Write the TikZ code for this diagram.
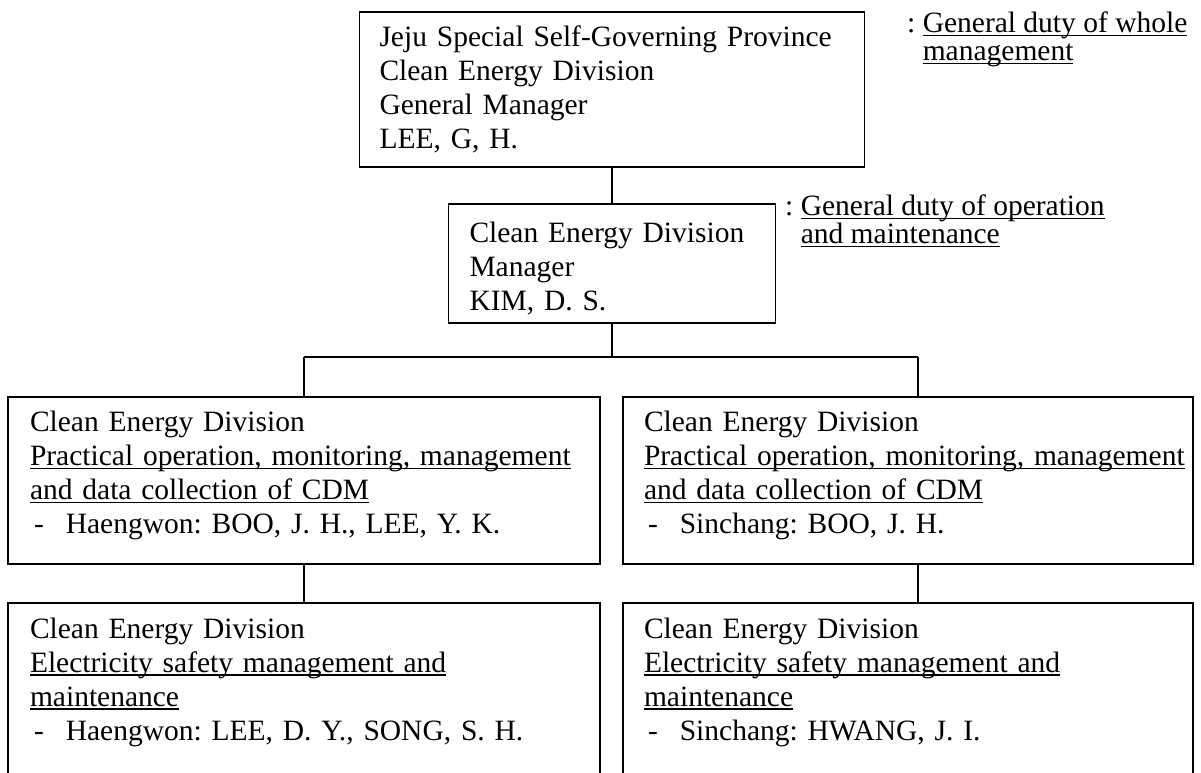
\documentclass[tikz,border=0pt]{standalone}
\usepackage{fontspec}
\setmainfont{Liberation Serif}
\newcommand{\ulined}[1]{\leavevmode\setbox0\hbox{#1}\rlap{\rule[-3.5pt]{\wd0}{1.5pt}}\box0}
\newcommand{\staff}[1]{\leavevmode\hspace*{4pt}-\hspace*{22pt}#1}
\tikzset{
  unit/.style={draw, line width=1.6pt, align=left, inner ysep=0pt,
    font=\fontsize{29.5}{34}\selectfont\frenchspacing},
  duty/.style={align=left, inner sep=0pt, anchor=north west,
    font=\fontsize{29.5}{28}\selectfont\frenchspacing},
  link/.style={line width=1.6pt}
}
\begin{document}
\begin{tikzpicture}[x=1pt,y=-1pt]
\useasboundingbox (0,0) rectangle (1201,773);
\clip (0,0) rectangle (1201,773);

\node[unit, inner xsep=20pt, text width=465pt, minimum height=155pt] (gm) at (612,89.5)
  {Jeju Special Self-Governing Province\\Clean Energy Division\\General Manager\\LEE, G, H.};
\node[unit, inner xsep=21pt, text width=285pt, minimum height=119pt] (mgr) at (612,263.5)
  {\rule{0pt}{30pt}Clean Energy Division\\Manager\\KIM, D. S.};

\node[duty] (dutygm) at (907,12)
  {: \ulined{General duty of whole}\\\hphantom{: }\ulined{management}};
\node[duty] (dutymgr) at (785,195)
  {: \ulined{General duty of operation}\\\hphantom{: }\ulined{and maintenance}};

\node[unit, inner xsep=22pt, text width=548pt, minimum height=167pt] (cdmL) at (304,480.5)
  {Clean Energy Division\\\ulined{Practical operation, monitoring, management}\\
   \ulined{and data collection of CDM}\\\staff{Haengwon: BOO, J. H., LEE, Y. K.}\rule[-16pt]{0pt}{16pt}};
\node[unit, inner xsep=21pt, text width=528pt, minimum height=167pt] (cdmR) at (908,480.5)
  {Clean Energy Division\\\ulined{Practical operation, monitoring, management}\\
   \ulined{and data collection of CDM}\\\staff{Sinchang: BOO, J. H.}\rule[-16pt]{0pt}{16pt}};

\node[unit, inner xsep=22pt, text width=548pt, minimum height=200pt] (safeL) at (304,703)
  {Clean Energy Division\\\ulined{Electricity safety management and}\\
   \ulined{maintenance}\\\staff{Haengwon: LEE, D. Y., SONG, S. H.}\rule[-48pt]{0pt}{48pt}};
\node[unit, inner xsep=21pt, text width=528pt, minimum height=200pt] (safeR) at (908,703)
  {Clean Energy Division\\\ulined{Electricity safety management and}\\
   \ulined{maintenance}\\\staff{Sinchang: HWANG, J. I.}\rule[-48pt]{0pt}{48pt}};

% connectors
\coordinate (bus) at (612,357);
\coordinate (busL) at (304,357);
\coordinate (busR) at (918,357);
\draw[link] (gm) -- (mgr);
\draw[link] (mgr) -- (bus);
\draw[link] (busL) -- (busR);
\draw[link] (busL) -- (busL |- cdmL.north);
\draw[link] (busR) -- (busR |- cdmR.north);
\draw[link] (busL |- cdmL.south) -- (busL |- safeL.north);
\draw[link] (busR |- cdmR.south) -- (busR |- safeR.north);
\end{tikzpicture}
\end{document}
